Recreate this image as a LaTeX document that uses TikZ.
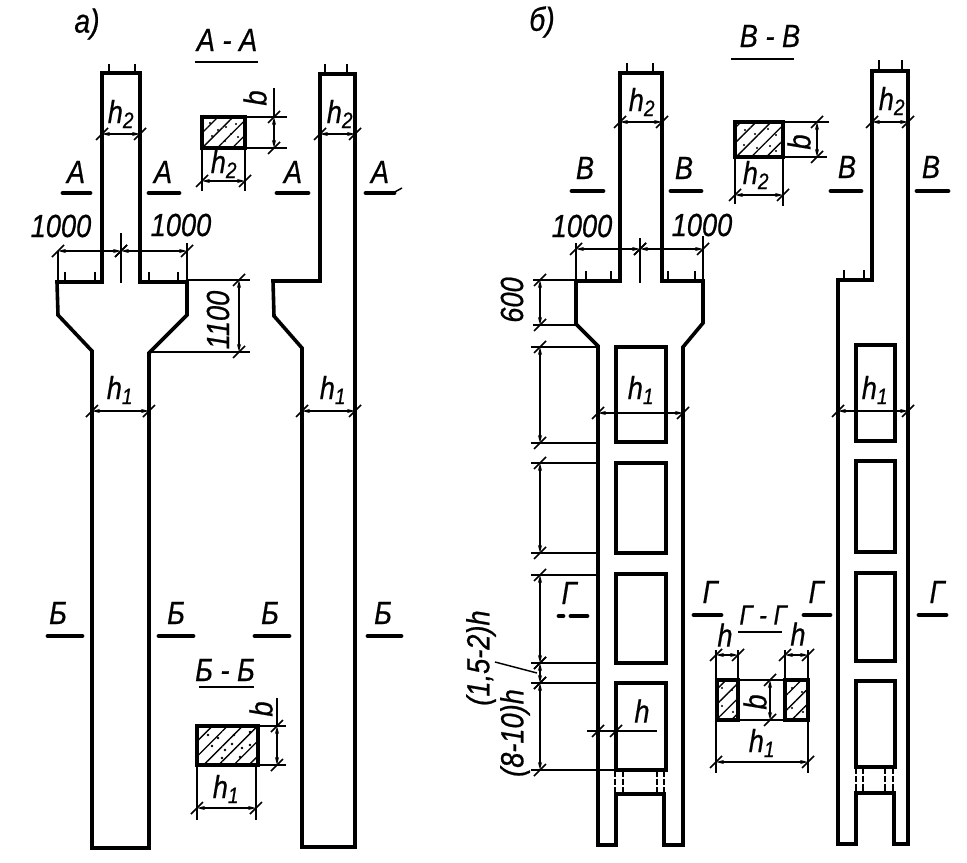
\documentclass[tikz,border=0pt]{standalone}
\usepackage{fontspec}
\setmainfont{Liberation Sans}[FakeStretch=0.85,FakeBold=0.6]
\usetikzlibrary{patterns.meta,arrows.meta}
\tikzset{
  wall/.style={black,line width=2.7pt,line join=miter},
  opening/.style={black,line width=2.4pt},
  dimline/.style={black,line width=1.1pt},
  dimarrow/.style={dimline,{Stealth[length=6pt,width=3pt]}-{Stealth[length=6pt,width=3pt]}},
  marker/.style={black,line width=3.6pt,line cap=round},
  titleline/.style={black,line width=1.8pt},
  rebar/.style={black,line width=1.6pt},
  hidden/.style={black,line width=1pt,dash pattern=on 5pt off 1.5pt},
  lab/.style={inner sep=0pt,font=\itshape\fontsize{24}{24}\selectfont},
  labsmall/.style={inner sep=0pt,font=\itshape\fontsize{21}{21}\selectfont},
  labbig/.style={inner sep=0pt,font=\itshape\fontsize{25}{25}\selectfont},
  concrete/.style={line width=2.7pt,draw=black,pattern={Lines[angle=45,distance=8pt,line width=1pt]}}
}
\newcommand{\hdim}[3]{% y, x from, x to
  \draw[dimarrow] (#2,#1) -- (#3,#1);
  \draw[dimline] (#2,#1) +(-6,6) -- +(6,-6);
  \draw[dimline] (#3,#1) +(-6,6) -- +(6,-6);
}
\newcommand{\vdim}[3]{% x, y from, y to
  \draw[dimarrow] (#1,#2) -- (#1,#3);
  \draw[dimline] (#1,#2) +(-6,6) -- +(6,-6);
  \draw[dimline] (#1,#3) +(-6,6) -- +(6,-6);
}
\newcommand{\hh}[1]{h\textsubscript{#1}}
\begin{document}
\begin{tikzpicture}[x=0.75pt,y=-0.75pt]
  \useasboundingbox (0,0) rectangle (967,863);

  % a) left column
  \draw[wall] (102,73) -- (140,73) -- (140,282) -- (187,282) -- (187,315) -- (149,353)
    -- (149,848) -- (92,848) -- (92,351) -- (58,315) -- (57,282) -- (102,282) -- cycle;
  % a) right column
  \draw[wall] (320,74) -- (355,74) -- (355,847) -- (302,847) -- (302,348) -- (274,316)
    -- (273,281) -- (320,281) -- cycle;
  \foreach \x in {109,135,325,347} \draw[rebar] (\x,64) -- (\x,73);
  \foreach \x in {65,95,149,178} \draw[rebar] (\x,272) -- (\x,282);

  \hdim{134}{102}{140}
  \hdim{134}{320}{355}
  \hdim{411}{92}{149}
  \hdim{411}{302}{355}
  \node[lab] (htwoa) at (121,114) {\hh{2}};
  \node[lab] (htwob) at (340,114) {\hh{2}};
  \node[lab] (honea) at (120,390) {\hh{1}};
  \node[lab] (honeb) at (333,390) {\hh{1}};

  % 1000 and 1100
  \hdim{251}{58}{121}
  \hdim{251}{121}{187}
  \draw[dimline] (58,251) -- (58,282);
  \draw[dimline] (187,243) -- (187,282);
  \draw[dimline] (121,233) -- (121,283);
  \node[lab] (kilola) at (61,226) {1000};
  \node[lab] (kilolb) at (181,225) {1000};
  \draw[dimline] (187,280) -- (250,280);
  \draw[dimline] (149,352) -- (250,352);
  \vdim{239}{280}{352}
  \node[lab,rotate=90] (sill) at (218,320) {1100};

  % section marks A, B
  \foreach \x/\xa/\xb/\n in {76/63/90/aa,163/149/179/ab,293/277/308/ac,380/366/394/ad} {
    \draw[marker] (\xa,193) -- (\xb,193);
    \node[lab] (mark\n) at (\x,172) {А};
  }
  \draw[dimline] (393,193) -- (402,188);
  \foreach \x/\xa/\xb/\n in {58/48/82/ba,176/159/193/bb,270/255/289/bc,383/368/401/bd} {
    \draw[marker] (\xa,636) -- (\xb,636);
    \node[lab] (mark\n) at (\x,613) {Б};
  }

  % section A-A
  \node[lab] (titleaa) at (227,40) {А - А};
  \draw[titleline] (195,62) -- (258,62);
  \draw[concrete] (202,117) rectangle (245,148);
  \foreach \px/\py in {210/123,226/127,236/124,212/136,225/141,238/137,218/130,231/134}
    \fill (\px,\py) circle (1.2);
  \draw[dimline] (245,117) -- (287,117);
  \draw[dimline] (245,148) -- (287,148);
  \draw[dimline] (274,88) -- (274,117);
  \vdim{274}{117}{148}
  \node[lab,rotate=90] (baa) at (255,98) {b};
  \draw[dimline] (202,148) -- (202,191);
  \draw[dimline] (245,148) -- (245,191);
  \hdim{181}{202}{245}
  \node[lab] (htwoc) at (224,164) {\hh{2}};

  % section B-B
  \node[lab] (titlebb) at (225,670) {Б - Б};
  \draw[titleline] (199,687) -- (254,687);
  \draw[concrete] (197,726) rectangle (258,765);
  \foreach \px/\py in {208/735,212/746,225/750,234/735,242/748,250/732,250/745,222/758,240/757,218/738,232/744}
    \fill (\px,\py) circle (1.3);
  \draw[dimline] (258,726) -- (286,726);
  \draw[dimline] (258,765) -- (286,765);
  \draw[dimline] (277,698) -- (277,726);
  \vdim{277}{726}{765}
  \node[lab,rotate=90] (bbb) at (261,709) {b};
  \draw[dimline] (197,765) -- (197,820);
  \draw[dimline] (256,765) -- (256,820);
  \hdim{808}{197}{256}
  \node[lab] (honec) at (226,789) {\hh{1}};

  % labels of the two parts
  \node[labbig] (parta) at (87,24) {а)};
  \node[labbig] (partb) at (542,22) {б)};

  % b) left column
  \draw[wall] (620,73) -- (662,73) -- (662,281) -- (703,281) -- (703,323) -- (683,347)
    -- (683,845) -- (664,845) -- (664,794) -- (616,794) -- (616,845) -- (598,845)
    -- (598,346) -- (576,324) -- (576,281) -- (620,281) -- cycle;
  % b) right column
  \draw[wall] (872,71) -- (908,71) -- (908,844) -- (894,844) -- (894,793) -- (856,793)
    -- (856,844) -- (838,844) -- (838,280) -- (872,280) -- cycle;
  \foreach \x in {627,653} \draw[rebar] (\x,63) -- (\x,73);
  \foreach \x in {879,902} \draw[rebar] (\x,60) -- (\x,71);
  \foreach \x in {586,611,668,695} \draw[rebar] (\x,271) -- (\x,281);
  \foreach \x in {844,864} \draw[rebar] (\x,270) -- (\x,280);

  % openings
  \foreach \ya/\yb in {347/442,463/553,574/663,683/770}
    \draw[opening] (616,\ya) rectangle (666,\yb);
  \foreach \ya/\yb in {345/441,461/552,573/661,681/767}
    \draw[opening] (856,\ya) rectangle (895,\yb);
  \foreach \x in {615,623,657,664} \draw[hidden] (\x,770) -- (\x,794);
  \foreach \x in {856,863,885,893} \draw[hidden] (\x,767) -- (\x,793);

  \hdim{122}{620}{662}
  \hdim{122}{872}{908}
  \hdim{413}{598}{683}
  \hdim{411}{838}{908}
  \node[lab] (htwod) at (642,102) {\hh{2}};
  \node[lab] (htwoe) at (892,101) {\hh{2}};
  \node[lab] (honed) at (641,390) {\hh{1}};
  \node[lab] (honee) at (875,390) {\hh{1}};

  % 1000 and 600
  \hdim{249}{576}{640}
  \hdim{249}{640}{703}
  \draw[dimline] (576,243) -- (576,281);
  \draw[dimline] (703,236) -- (703,281);
  \draw[dimline] (640,238) -- (640,283);
  \node[lab] (kiloa) at (582,226) {1000};
  \node[lab] (kilob) at (702,225) {1000};
  \draw[dimline] (533,280) -- (576,280);
  \draw[dimline] (533,325) -- (576,325);
  \vdim{540}{280}{325}
  \node[lab,rotate=90] (shelf) at (512,300) {600};

  % chain of dimensions along the openings
  \foreach \ya/\yb in {347/443,463/553,575/663,663/683,683/770}
    \vdim{540}{\ya}{\yb}
  \foreach \y in {347,443,463,553,575,663,683}
    \draw[dimline] (531,\y) -- (598,\y);
  \draw[dimline] (531,770) -- (616,770);
  \node[lab,rotate=90] (pitch) at (481,658) {(1,5-2)h};
  \node[lab,rotate=90] (width) at (515,733) {(8-10)h};
  \draw[dimline] (495,662) -- (537,673);

  % h at the chord
  \draw[dimline] (587,731) -- (657,731);
  \foreach \x in {598,616} \draw[dimline] (\x,731) +(-6,6) -- +(6,-6);
  \node[lab] (hchord) at (642,711) {h};

  % section marks V, G
  \foreach \x/\xa/\xb/\y/\n in {585/572/603/168/va,684/671/701/168/vb,847/831/861/167/vc,931/917/948/167/vd} {
    \draw[marker] (\xa,191) -- (\xb,191);
    \node[lab] (mark\n) at (\x,\y) {В};
  }
  \foreach \x/\xa/\xb/\n in {710/694/721/gb,816/804/830/gc,937/919/946/gd} {
    \draw[marker] (\xa,615) -- (\xb,615);
    \node[lab] (mark\n) at (\x,592) {Г};
  }
  \node[lab] (markga) at (569,593) {Г};
  \draw[marker] (559,616) -- (563,616);
  \draw[marker] (571,616) -- (587,616);

  % section V-V
  \node[lab] (titlevv) at (770,36) {В - В};
  \draw[titleline] (731,59) -- (794,59);
  \draw[concrete] (735,122) rectangle (783,157);
  \foreach \px/\py in {745/130,768/129,776/135,744/145,757/148,770/146,776/151,755/134}
    \fill (\px,\py) circle (1.2);
  \draw[dimline] (783,122) -- (829,122);
  \draw[dimline] (783,157) -- (827,157);
  \vdim{817}{122}{157}
  \node[lab,rotate=90] (bvv) at (799,142) {b};
  \draw[dimline] (735,157) -- (735,204);
  \draw[dimline] (783,157) -- (783,206);
  \hdim{195}{735}{783}
  \node[lab] (htwof) at (756,175) {\hh{2}};

  % section G-G
  \node[labsmall] (titlegg) at (763,615) {Г - Г};
  \draw[titleline] (738,632) -- (782,632);
  \draw[black,line width=1.8pt] (716,680) rectangle (808,720);
  \draw[concrete] (717,680) rectangle (738,720);
  \draw[concrete] (785,680) rectangle (808,720);
  \foreach \px/\py in {722/688,732/690,722/706,733/712,792/688,802/692,792/708,803/712}
    \fill (\px,\py) circle (1.2);
  \foreach \x in {716,738,785,808} \draw[dimline] (\x,650) -- (\x,680);
  \hdim{655}{716}{738}
  \hdim{655}{785}{808}
  \node[lab] (hsecta) at (725,635) {h};
  \node[lab] (hsectb) at (798,634) {h};
  \vdim{770}{680}{720}
  \node[lab,rotate=90] (bgg) at (755,702) {b};
  \draw[dimline] (716,720) -- (716,773);
  \draw[dimline] (808,720) -- (808,773);
  \hdim{762}{716}{808}
  \node[lab] (honef) at (762,743) {\hh{1}};
\end{tikzpicture}
\end{document}
